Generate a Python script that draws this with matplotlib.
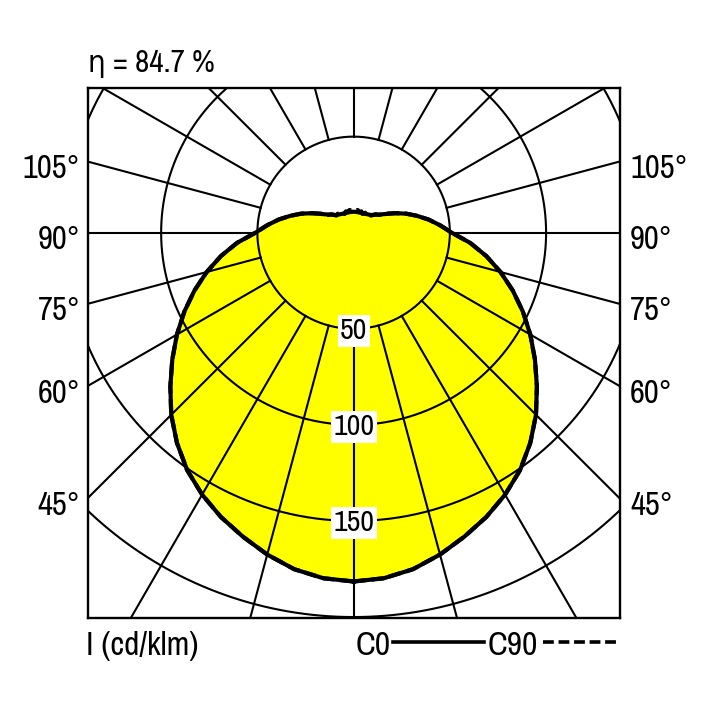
import numpy as np
import matplotlib
matplotlib.use("Agg")
import matplotlib.pyplot as plt
from matplotlib import font_manager as fm
from matplotlib.lines import Line2D

# the original uses a condensed sans; pick the narrowest one that is installed
narrow_name, narrow_stretch = None, "normal"
for f in fm.fontManager.ttflist:
    if f.style != "normal" or f.weight not in (400, "normal", "regular"):
        continue
    if "Narrow" in f.name:
        narrow_name, narrow_stretch = f.name, f.stretch
        break
    if narrow_name is None and ("Condensed" in f.name or f.stretch in ("condensed", "semi-condensed")):
        narrow_name, narrow_stretch = f.name, f.stretch
if narrow_name is None:
    plt.rcParams['font.family'] = ['Liberation Sans', 'DejaVu Sans']
    fs_scale = 0.92
else:
    plt.rcParams['font.family'] = [narrow_name, 'DejaVu Sans']
    plt.rcParams['font.stretch'] = narrow_stretch
    fs_scale = 1.0

# polar angle from nadir (deg) and luminous intensity (cd/klm)
gamma = [0, 5, 10, 15, 20, 25, 30, 35, 40, 45, 50, 55, 60, 65, 70, 75, 80, 85, 90,
         95, 100, 105, 110, 115, 120, 125, 130, 135, 140, 145, 150, 155, 160, 165, 170, 175, 180]
c0 = [181.5, 180.5, 177.8, 173.4, 168.3, 163.2, 157.4, 150.8, 142.8, 134, 124.3, 115, 106, 97, 88, 79, 70, 60.8, 51,
      45, 39.5, 34, 29, 24, 19.5, 16.5, 14.5, 13, 12.3, 11.8, 11.4, 11.2, 11.0, 10.9, 10.9, 10.9, 10.9]
c90 = [181.5, 180.5, 177.8, 173.4, 168.3, 163.2, 157.4, 150.8, 142.8, 134, 124.3, 115, 106, 97, 88, 79, 70, 60.8, 51,
       45, 39.5, 34, 29, 24, 19.9, 16.1, 15.0, 12.6, 12.9, 11.4, 12.0, 10.8, 11.8, 11.2, 12.0, 11.3, 11.7]

rings = [50, 100, 150, 200, 250]
ring_labels = [50, 100, 150]
side_angles = [45, 60, 75, 90, 105]
eta_text = "η = 84.7 %"
unit_text = "I (cd/klm)"

W = H = 708
PX = 1.925  # pixels per cd/klm
fig = plt.figure(figsize=(W / 100, H / 100), dpi=100)
ax = fig.add_axes([88 / W, 90 / H, 532 / W, 530 / H])
ax.set_xlim(-138, 138.4)
ax.set_ylim(-200.5, 75.3)
ax.set_xticks([])
ax.set_yticks([])
for s in ax.spines.values():
    s.set_linewidth(1.7)
    s.set_zorder(6)


def curve_xy(vals):
    g = np.radians(gamma)
    v = np.asarray(vals, dtype=float)
    # right half 0..180, then left half 180..0 mirrored
    x = np.concatenate([v * np.sin(g), -(v * np.sin(g))[::-1]])
    y = np.concatenate([-v * np.cos(g), (-v * np.cos(g))[::-1]])
    return x, y


x0, y0 = curve_xy(c0)
x90, y90 = curve_xy(c90)
ax.fill(x0, y0, color="#ffff00", zorder=1, lw=0)

# grid: circles and spokes starting at the first ring
t = np.linspace(0, 2 * np.pi, 600)
for r in rings:
    ax.plot(r * np.cos(t), r * np.sin(t), color="k", lw=1.5, zorder=2)
for a in range(0, 360, 15):
    ar = np.radians(a)
    ax.plot([rings[0] * np.sin(ar), 400 * np.sin(ar)],
            [-rings[0] * np.cos(ar), -400 * np.cos(ar)], color="k", lw=1.5, zorder=2)

ax.plot(x90, y90, color="k", lw=3.0, dashes=(3.0, 1.3), zorder=3)
ax.plot(x0, y0, color="k", lw=3.0, zorder=3, solid_joinstyle="round")

for r in ring_labels:
    ax.text(0, -r - 1, str(r), ha="center", va="center", fontsize=21.5 * fs_scale, zorder=5,
            bbox=dict(boxstyle="square,pad=0.08", fc="white", ec="none"))

fs_side = 23.5 * fs_scale
em_px = fs_side * 100 / 72
xl, xr = ax.get_xlim()
for a in side_angles:
    ar = np.radians(a)
    yl = xl * np.cos(ar) / np.sin(ar)
    yb = yl - (5 + 0.36 * em_px) / PX
    ax.text(-142, yb, f"{a}°", ha="right", va="baseline", fontsize=fs_side)
    ax.text(143.6, yb, f"{a}°", ha="left", va="baseline", fontsize=fs_side)

fs_top = 22.5 * fs_scale
fs_bot = 24 * fs_scale
fig.text(88 / W, 1 - 72 / H, eta_text, ha="left", va="baseline", fontsize=fs_top)
fig.text(86 / W, 1 - 655 / H, unit_text, ha="left", va="baseline", fontsize=fs_bot)
fig.text(356 / W, 1 - 655 / H, "C0", ha="left", va="baseline", fontsize=fs_bot)
fig.text(488 / W, 1 - 655 / H, "C90", ha="left", va="baseline", fontsize=fs_bot)
fig.add_artist(Line2D([393 / W, 484 / W], [1 - 642 / H, 1 - 642 / H], color="k", lw=2.6))
fig.add_artist(Line2D([543 / W, 616 / W], [1 - 642 / H, 1 - 642 / H], color="k", lw=2.6,
                      dashes=(3.0, 1.3)))

fig.savefig("out.png", dpi=100)
